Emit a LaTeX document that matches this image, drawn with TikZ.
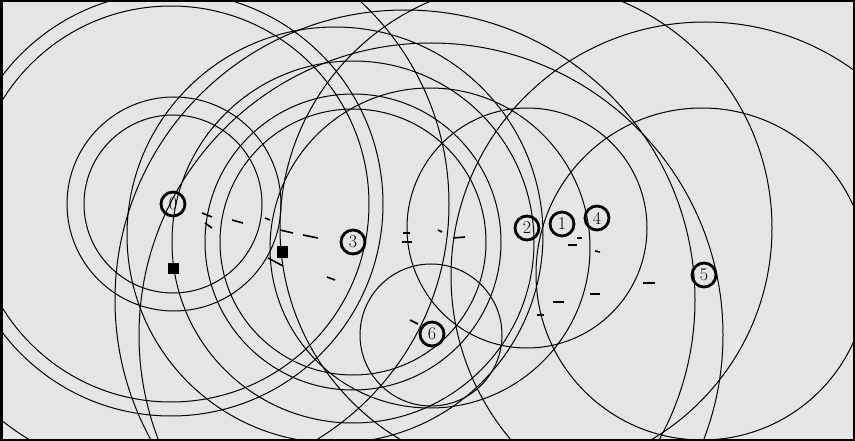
\documentclass[tikz,border=0pt]{standalone}
\begin{document}
\begin{tikzpicture}[x=1pt,y=-1pt,
    sensor/.style={circle,draw,line width=2.8pt,inner sep=0pt,minimum size=24pt,font=\fontsize{18}{18}\selectfont},
    anchorbox/.style={fill=black,inner sep=0pt,minimum size=11pt},
    rangering/.style={line width=1pt},
    trace/.style={line width=1.6pt}]
    \useasboundingbox (0,0) rectangle (855,441);

    % background
    \fill[gray!20] (0,0) rectangle (855,441);

    % ranges
    \begin{scope}
      \clip (0,0) rectangle (855,441);
      \foreach \x\y\r in {
          173/204/89, 174/204/107, 171/204/198, 171/204/212, 173/204/276,
          353/242/133, 353/242/148, 353/242/181, 335/235/208,
          431/335/71, 431/335/292, 405/300/290, 430/248/160,
          527/228/120, 526/228/246,
          702/274/166, 705/276/254}{
        \draw[rangering] (\x,\y) circle[radius=\r pt];
      }
    \end{scope}

    % traces
    \foreach \a\b\c\d in {
        202/213/212/217, 205/223/212/228, 232/220/243/223, 265/218/270/220,
        280/230/293/233, 303/235/318/238, 268/258/283/266, 327/277/335/280,
        403/233/410/233, 402/242/412/242, 438/230/442/232, 453/238/465/237,
        568/245/577/245, 577/238/582/238, 595/251/600/252, 553/302/564/302,
        590/294/600/294, 643/283/655/283, 537/315/544/315, 410/320/418/324}{
      \draw[trace] (\a,\b) -- (\c,\d);
    }

    % anchors
    \node[anchorbox] (s1) at (173,268) {};
    \node[anchorbox] (s2) at (282,252) {};

    % sensors
    \foreach \n\x\y in {0/173/204, 1/562/224, 2/527/228, 3/353/242, 4/597/218, 5/704/275, 6/432/334}{
      \node[sensor] (n\n) at (\x,\y) {\n};
    }

    % frame
    \draw[line width=2.5pt] (1.25,1.25) rectangle (853.75,439.75);
\end{tikzpicture}
\end{document}
